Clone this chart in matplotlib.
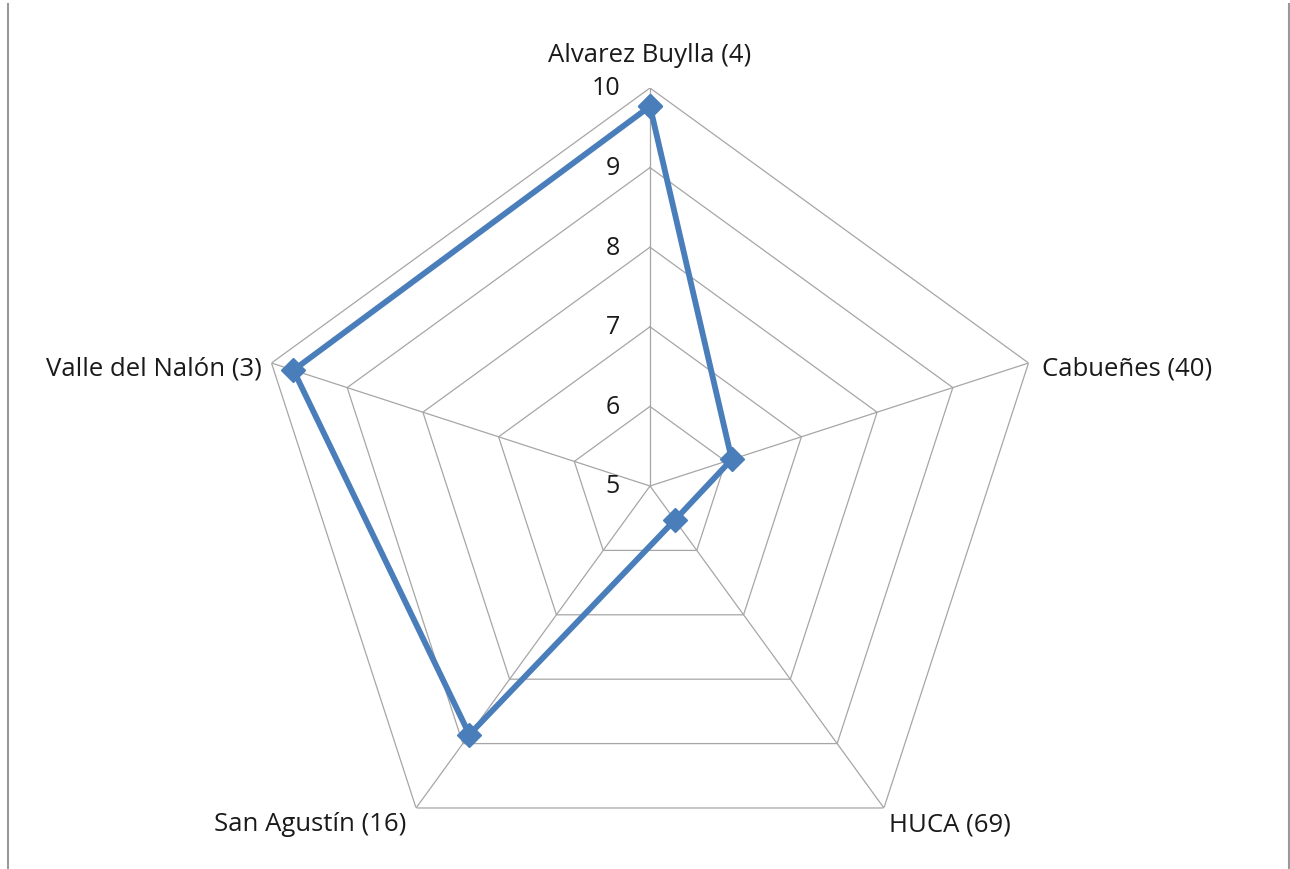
import numpy as np
import matplotlib
matplotlib.use("Agg")
import matplotlib.pyplot as plt
from matplotlib.lines import Line2D

# ── Data ──────────────────────────────────────────────────────────────────────
categories = ["Alvarez Buylla (4)", "Cabueñes (40)", "HUCA (69)",
              "San Agustín (16)", "Valle del Nalón (3)"]
values = [9.77, 6.08, 5.53, 8.86, 9.71]
r_ticks = [5, 6, 7, 8, 9, 10]

W, H = 1290, 870
fig = plt.figure(figsize=(W / 100, H / 100), dpi=100)
plt.rcParams["font.family"] = ["Open Sans", "DejaVu Sans"]

cx, cy, R = 650, 487, 398
ax = fig.add_axes([(cx - R) / W, (H - cy - R) / H, 2 * R / W, 2 * R / H],
                  projection="polar")
ax.set_theta_zero_location("N")
ax.set_theta_direction(-1)
ax.set_ylim(r_ticks[0], r_ticks[-1])
ax.grid(False)
ax.spines["polar"].set_visible(False)
ax.set_xticks([]); ax.set_yticks([])
ax.patch.set_alpha(0)

n = len(categories)
theta = np.linspace(0, 2 * np.pi, n, endpoint=False)
theta_c = np.append(theta, theta[0])

grid_col = "#a6a6a6"
for lv in r_ticks:
    ax.plot(theta_c, [lv] * (n + 1), color=grid_col, lw=0.9, zorder=1)
for t in theta:
    ax.plot([t, t], [r_ticks[0], r_ticks[-1]], color=grid_col, lw=0.9, zorder=1)

vals_c = values + values[:1]
ax.plot(theta_c, vals_c, color="#4a7ebb", lw=4.2, marker="D", ms=12,
        zorder=3, clip_on=False)

# radial tick labels along the top spoke
for lv in r_ticks:
    ax.annotate(str(lv), xy=(0, lv), xytext=(-30, 0), textcoords="offset pixels",
                ha="right", va="center", fontsize=18, color="#1a1a1a")

# category labels
offsets = [(0, 33, "center", "center"), (13, -5, "left", "center"),
           (5, -16, "left", "center"), (-10, -16, "right", "center"),
           (-10, -5, "right", "center")]
for t, lab, (dx, dy, ha, va) in zip(theta, categories, offsets):
    ax.annotate(lab, xy=(t, r_ticks[-1]), xytext=(dx, dy), textcoords="offset pixels",
                ha=ha, va=va, fontsize=18.5, color="#1a1a1a", annotation_clip=False)

# chart-area frame edges
fig.add_artist(Line2D([8 / W, 8 / W], [0, 1 - 5 / H], color="#999999", lw=1.5))
fig.add_artist(Line2D([1289 / W, 1289 / W], [0, 1 - 5 / H], color="#999999", lw=1.5))

fig.savefig("out.png", dpi=100)
